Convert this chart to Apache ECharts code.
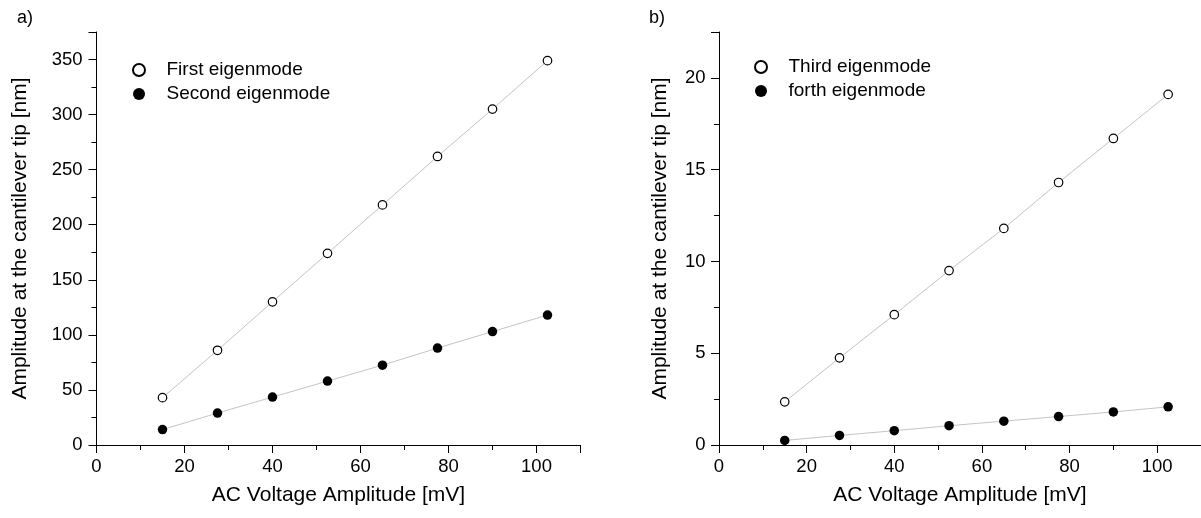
<!DOCTYPE html>
<html><head><meta charset="utf-8">
<script src="https://cdn.jsdelivr.net/npm/echarts@6/dist/echarts.min.js"></script>
<style>html,body{margin:0;padding:0;background:#fff}#c{width:1201px;height:518px}</style>
</head><body><div id="c"></div>
<script>
const voltage = [15, 27.5, 40, 52.5, 65, 77.5, 90, 102.5];
const firstMode = [43, 86, 130, 174, 218, 262, 305, 349];
const secondMode = [14, 29, 43.5, 58, 72.5, 88, 103, 118];
const thirdMode = [2.35, 4.75, 7.1, 9.5, 11.8, 14.3, 16.7, 19.1];
const forthMode = [0.25, 0.52, 0.78, 1.05, 1.3, 1.55, 1.8, 2.08];
const seriesNames = ['First eigenmode', 'Second eigenmode', 'Third eigenmode', 'forth eigenmode'];
const xName = 'AC Voltage Amplitude [mV]';
const yName = 'Amplitude at the cantilever tip [nm]';

const F = 'Liberation Sans, Arial, sans-serif';
const pairs = a => voltage.map((v, i) => [v, a[i]]);

function xAx(gi) {
  return {
    gridIndex: gi, type: 'value', min: 0, max: 110, interval: 20,
    name: xName, nameLocation: 'middle', nameGap: 40,
    nameTextStyle: {fontFamily: F, fontSize: 21, color: '#000'},
    axisLine: {show: true, onZero: false, lineStyle: {color: '#000', width: 1}},
    axisTick: {show: true, inside: false, length: 8, lineStyle: {color: '#000'}},
    minorTick: {show: true, splitNumber: 2, length: 5, lineStyle: {color: '#000'}},
    axisLabel: {fontFamily: F, fontSize: 18.5, color: '#000', margin: 12, showMaxLabel: false},
    splitLine: {show: false}
  };
}
function yAx(gi, max, interval, gap, margin) {
  return {
    gridIndex: gi, type: 'value', min: 0, max: max, interval: interval,
    name: yName, nameLocation: 'middle', nameGap: gap,
    nameTextStyle: {fontFamily: F, fontSize: 21, color: '#000'},
    axisLine: {show: true, onZero: false, lineStyle: {color: '#000', width: 1}},
    axisTick: {show: true, inside: false, length: 8, lineStyle: {color: '#000'}},
    minorTick: {show: true, splitNumber: 2, length: 5, lineStyle: {color: '#000'}},
    axisLabel: {fontFamily: F, fontSize: 18.5, color: '#000', margin: margin, showMaxLabel: false},
    splitLine: {show: false}
  };
}
function ser(name, data, xi, filled) {
  return {
    name: name, type: 'line', xAxisIndex: xi, yAxisIndex: xi, data: pairs(data),
    symbol: 'circle', symbolSize: filled ? 9.5 : 8.5, z: 3,
    lineStyle: {color: '#c4c4c4', width: 1},
    itemStyle: filled ? {color: '#000', borderColor: '#000', borderWidth: 0}
                      : {color: '#fff', borderColor: '#000', borderWidth: 1.2},
    emphasis: {disabled: true}, animation: false
  };
}
const legText = pad => ({fontFamily: F, fontSize: 19, color: '#000', lineHeight: 20, padding: [0, 0, 0, pad]});
const chart = echarts.init(document.getElementById('c'));
chart.setOption({
  animation: false,
  backgroundColor: '#fff',
  grid: [
    {left: 96.5, top: 32, width: 484, height: 413},
    {left: 719, top: 32, width: 484, height: 413}
  ],
  xAxis: [xAx(0), xAx(1)],
  yAxis: [yAx(0, 375, 50, 66, 14), yAx(1, 22.5, 5, 48, 13.5)],
  legend: [
    {data: [seriesNames[0], seriesNames[1]], left: 127, top: 55, orient: 'vertical', icon: 'circle',
     itemWidth: 12, itemHeight: 12, itemGap: 4, textStyle: legText(16.5), selectedMode: false},
    {data: [seriesNames[2], seriesNames[3]], left: 749, top: 52, orient: 'vertical', icon: 'circle',
     itemWidth: 12, itemHeight: 12, itemGap: 4, textStyle: legText(16.5), selectedMode: false}
  ],
  graphic: [
    {type: 'text', left: 17, top: 9, style: {text: 'a)', fontFamily: F, fontSize: 18, fill: '#000'}},
    {type: 'text', left: 649, top: 9, style: {text: 'b)', fontFamily: F, fontSize: 18, fill: '#000'}}
  ],
  series: [
    ser(seriesNames[0], firstMode, 0, false),
    ser(seriesNames[1], secondMode, 0, true),
    ser(seriesNames[2], thirdMode, 1, false),
    ser(seriesNames[3], forthMode, 1, true)
  ]
});
</script></body></html>
